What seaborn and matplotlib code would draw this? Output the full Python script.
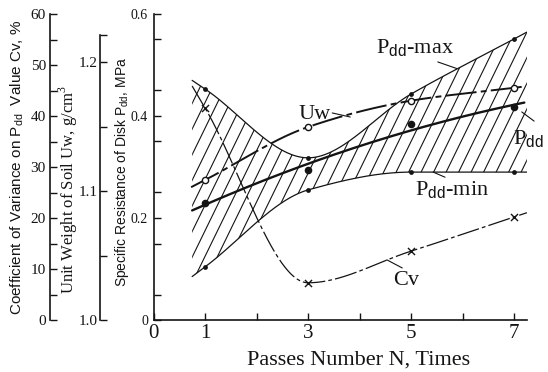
import numpy as np
import pandas as pd
import seaborn as sns
import matplotlib
matplotlib.use("Agg")
import matplotlib.pyplot as plt
from matplotlib.collections import LineCollection
from matplotlib.patches import Polygon
from matplotlib.ticker import FixedLocator, FixedFormatter

# ---------------- data ----------------
passes = [1, 3, 5, 7]
pdd_max = [0.453, 0.318, 0.443, 0.551]
pdd_mean = [0.230, 0.294, 0.384, 0.418]
pdd_min = [0.104, 0.255, 0.290, 0.290]
uw = [1.1085, 1.1496, 1.170, 1.180]
cv = [41.6, 7.3, 13.5, 20.2]

x_tick_pos = [0, 1, 3, 5, 7]
x_tick_labels = ["0", "1", "3", "5", "7"]
p_tick_pos = [0, 0.2, 0.4, 0.6]
p_tick_labels = ["0", "0.2", "0.4", "0.6"]
uw_tick_pos = [1.0, 1.1, 1.2]
uw_tick_labels = ["1.0", "1.1", "1.2"]
cv_tick_pos = [0, 10, 20, 30, 40, 50, 60]
cv_tick_labels = ["0", "10", "20", "30", "40", "50", "60"]

# ---------------- smooth curve helpers ----------------
def smooth(x, y, xn):
    """Monotone cubic Hermite through the points, chord slopes at the ends,
    linear continuation outside the measured range."""
    x = np.asarray(x, float); y = np.asarray(y, float)
    h = np.diff(x); d = np.diff(y) / h
    n = len(x); m = np.zeros(n)
    for k in range(1, n - 1):
        if d[k - 1] * d[k] > 0:
            w1 = 2 * h[k] + h[k - 1]; w2 = h[k] + 2 * h[k - 1]
            m[k] = (w1 + w2) / (w1 / d[k - 1] + w2 / d[k])
    m[0] = d[0]; m[-1] = d[-1]
    out = np.empty(len(xn))
    for i, xv in enumerate(xn):
        if xv <= x[0]:
            out[i] = y[0] + m[0] * (xv - x[0])
        elif xv >= x[-1]:
            out[i] = y[-1] + m[-1] * (xv - x[-1])
        else:
            k = min(np.searchsorted(x, xv) - 1, n - 2)
            t = (xv - x[k]) / h[k]
            h00 = 2 * t**3 - 3 * t**2 + 1; h10 = t**3 - 2 * t**2 + t
            h01 = -2 * t**3 + 3 * t**2; h11 = t**3 - t**2
            out[i] = h00 * y[k] + h10 * h[k] * m[k] + h01 * y[k + 1] + h11 * h[k] * m[k + 1]
    return out

xs = np.linspace(0.75, 7.25, 300)
c_max = smooth(passes, pdd_max, xs)
c_min = smooth(passes, pdd_min, xs)
x_mean = np.linspace(0.75, 7.2, 300)
c_mean = np.polyval(np.polyfit(passes, pdd_mean, 2), x_mean)
x_uw = np.linspace(0.73, 7.22, 300)
c_uw = smooth(passes, uw, x_uw)
c_cv = smooth(passes, cv, xs)

# ---------------- style ----------------
sns.set_theme(style="ticks")
plt.rcParams["font.family"] = ["Liberation Serif", "DejaVu Serif"]
plt.rcParams["mathtext.fontset"] = "custom"
plt.rcParams["mathtext.rm"] = "Liberation Serif"
plt.rcParams["mathtext.sf"] = "Liberation Sans"
INK = "#141414"

W, H = 548, 372
fig = plt.figure(figsize=(W / 100, H / 100), dpi=100)
fig.patch.set_facecolor("white")
ax = fig.add_axes([153.5 / W, 52 / H, 373.4 / W, 306 / H])
ax.set_xlim(0, 7.25)
ax.set_ylim(0, 0.6)
ax.set_facecolor("none")
for s in ("top", "right"):
    ax.spines[s].set_visible(False)
for s in ("left", "bottom"):
    ax.spines[s].set_color(INK)
    ax.spines[s].set_linewidth(1.2)

# twin axes for Uw and Cv (same plotting box, outward left spines)
ax_uw = ax.twinx()
ax_uw.set_ylim(1.0, 1.0 + 306 / 1290)
ax_cv = ax.twinx()
ax_cv.set_ylim(0, 60)
for a, off, top in ((ax_uw, 38.5, 1.0 + 285 / 1290), (ax_cv, 74.5, 60)):
    a.yaxis.tick_left()
    for s in ("top", "right", "bottom"):
        a.spines[s].set_visible(False)
    a.spines["left"].set_visible(True)
    a.spines["left"].set_position(("outward", off))
    a.spines["left"].set_bounds(a.get_ylim()[0], top)
    a.spines["left"].set_color(INK)
    a.spines["left"].set_linewidth(1.2)

# ---------------- hatched band between P_dd-max and P_dd-min ----------------
upper = np.maximum(c_max, c_min); lower = np.minimum(c_max, c_min)
verts = np.column_stack([np.r_[xs, xs[::-1]], np.r_[upper, lower[::-1]]])
band = Polygon(verts, closed=True, facecolor="none", edgecolor="none", transform=ax.transData)
ax.add_patch(band)
sx = 373.4 / 7.25       # px per x unit
sy = 306 / 0.6          # px per y unit
slope = np.tan(np.radians(64)) * sx / sy
spacing = 12.5 / sx
offsets = np.arange(-3.0, 7.6, spacing)
segs = [[(c, 0.0), (c + 0.6 / slope, 0.6)] for c in offsets]
hatch = LineCollection(segs, colors=INK, linewidths=0.8, transform=ax.transData)
hatch.set_clip_path(band)
ax.add_collection(hatch)

# ---------------- curves ----------------
def curve(a, x, y, lw, dashes=None):
    sns.lineplot(x=x, y=y, ax=a, color=INK, lw=lw, estimator=None, sort=False)
    ln = a.get_lines()[-1]
    if dashes:
        ln.set_dashes(dashes)
    return ln

curve(ax, xs, c_max, 0.9)
curve(ax, xs, c_min, 0.9)
curve(ax, x_mean, c_mean, 1.7)
curve(ax_uw, x_uw, c_uw, 1.4, dashes=(16, 2.2, 3, 2.2))
curve(ax_cv, xs, c_cv, 0.9, dashes=(18, 2.5, 3, 2.5))

# ---------------- markers ----------------
sns.scatterplot(x=passes, y=pdd_max, ax=ax, color=INK, s=12, linewidth=0, zorder=6)
sns.scatterplot(x=passes, y=pdd_min, ax=ax, color=INK, s=12, linewidth=0, zorder=6)
sns.scatterplot(x=passes, y=pdd_mean, ax=ax, color=INK, s=30, linewidth=0, zorder=6)
sns.scatterplot(x=passes, y=uw, ax=ax_uw, facecolor="white", edgecolor=INK, s=20,
                linewidth=1.0, zorder=6)
sns.scatterplot(x=passes, y=cv, ax=ax_cv, marker="x", color=INK, s=26, linewidth=1.0, zorder=6)

# ---------------- ticks ----------------
tk = dict(direction="in", length=5, width=1.0, color=INK, labelcolor=INK)
ax.xaxis.set_major_locator(FixedLocator(x_tick_pos))
ax.xaxis.set_major_formatter(FixedFormatter(x_tick_labels))
ax.xaxis.set_minor_locator(FixedLocator([2, 4, 6]))
ax.tick_params(axis="x", which="both", bottom=True, top=False, pad=3, labelsize=15, **tk)

ax.yaxis.set_major_locator(FixedLocator(p_tick_pos))
ax.yaxis.set_major_formatter(FixedFormatter(p_tick_labels))
ax.yaxis.set_minor_locator(FixedLocator(np.arange(0.05, 0.6, 0.1)))
ax.tick_params(axis="y", which="both", left=True, right=False, pad=4, labelsize=10, **tk)

ax_uw.yaxis.set_major_locator(FixedLocator(uw_tick_pos))
ax_uw.yaxis.set_major_formatter(FixedFormatter(uw_tick_labels))
ax_uw.yaxis.set_minor_locator(FixedLocator([1.05, 1.15, 1.0 + 285 / 1290]))
ax_uw.tick_params(axis="y", which="both", left=True, right=False, labelleft=True,
                  labelright=False, pad=2, labelsize=11, **tk)

ax_cv.yaxis.set_major_locator(FixedLocator(cv_tick_pos))
ax_cv.yaxis.set_major_formatter(FixedFormatter(cv_tick_labels))
ax_cv.yaxis.set_minor_locator(FixedLocator(np.arange(5, 60, 10)))
ax_cv.tick_params(axis="y", which="both", left=True, right=False, labelleft=True,
                  labelright=False, pad=3, labelsize=11, **tk)

for a in (ax, ax_uw, ax_cv):
    a.set_xlabel(""); a.set_ylabel("")

# ---------------- axis titles ----------------
sans = ["Liberation Sans", "DejaVu Sans"]
fig.text(17 / W, 1 - 167 / H, r"Coefficient of Variance on P$_{\mathsf{dd}}$  Value Cv, %",
         rotation=90, ha="center", va="center", fontsize=11, family=sans, color=INK)
fig.text(68 / W, 1 - 190 / H, r"Unit Weight of Soil Uw, g/cm$^{3}$",
         rotation=90, ha="center", va="center", fontsize=12, color=INK)
fig.text(122 / W, 1 - 172 / H, r"Specific Resistance of Disk P$_{\mathsf{dd}}$, MPa",
         rotation=90, ha="center", va="center", fontsize=10, family=sans, color=INK)
fig.text(359 / W, 1 - 360 / H, "Passes Number N, Times",
         ha="center", va="center", fontsize=16, color=INK)

# ---------------- curve labels with leader lines ----------------
lab = dict(ha="center", va="center", fontsize=16, color=INK)
ax.text(5.08, 0.533, r"P$_{\mathsf{dd}}$-max", **lab)
ax.text(3.13, 0.402, "Uw", **lab)
ax.text(7.27, 0.355, r"P$_{\mathsf{dd}}$", **lab)
ax.text(5.80, 0.255, r"P$_{\mathsf{dd}}$-min", **lab)
ax.text(4.90, 0.078, "Cv", **lab)
leaders = [((5.52, 5.89), (0.506, 0.493)),
           ((3.47, 3.82), (0.406, 0.398)),
           ((7.15, 7.39), (0.408, 0.390)),
           ((5.43, 5.66), (0.290, 0.280)),
           ((4.53, 4.83), (0.118, 0.102))]
for lx, ly in leaders:
    ax.plot(lx, ly, color=INK, lw=0.8, clip_on=False)

fig.savefig("out.png", dpi=100, facecolor="white")
